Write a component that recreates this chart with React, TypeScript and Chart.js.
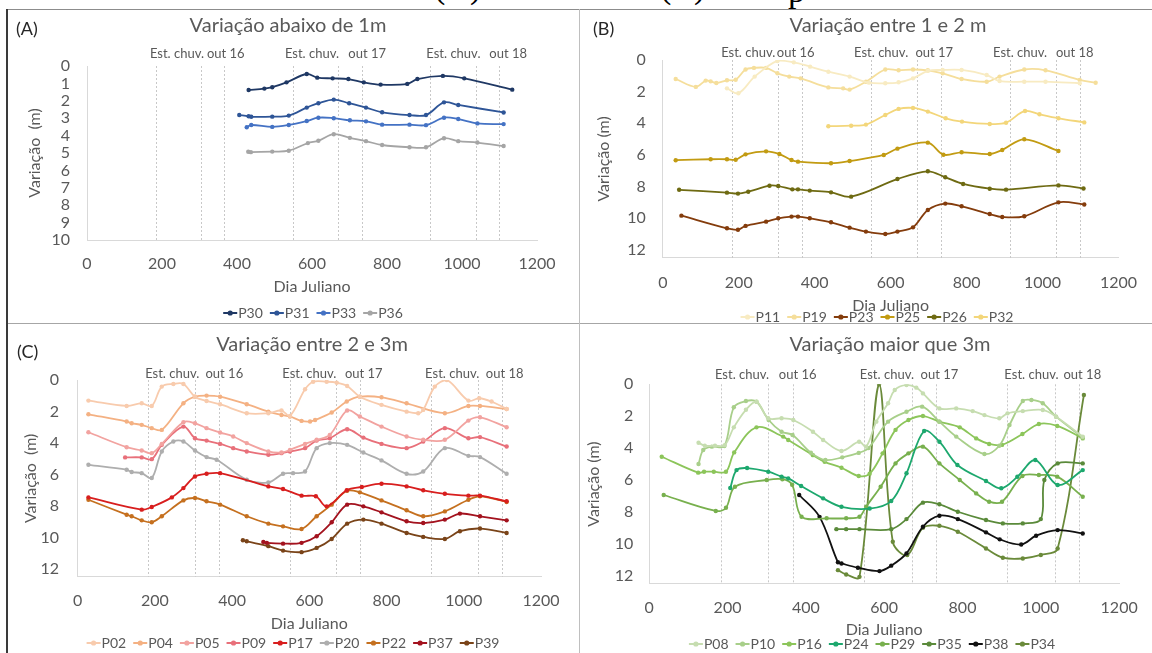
import React, { useEffect, useRef } from 'react';
import { Chart, registerables } from 'chart.js';
Chart.register(...registerables);

type Pt = [number, number];

const FONT = 'Lato, "Open Sans", sans-serif';
const TEXT = '#595959';

// Vertical dotted reference lines (Julian day)
const RAIN_LINES = [183, 304, 366, 549, 670, 732, 914, 1036, 1098];
const RAIN_TEXT = ['Est. chuv.', 'out 16', 'Est. chuv.', 'out 17', 'Est. chuv.', 'out 18'];
const X_TICKS = [0, 200, 400, 600, 800, 1000, 1200];
const Y_TICKS_A = [0, 1, 2, 3, 4, 5, 6, 7, 8, 9, 10];
const Y_TICKS_BCD = [0, 2, 4, 6, 8, 10, 12];

// ---- Panel A: Variação abaixo de 1m
const P30: Pt[] = [[431,1.38],[473,1.30],[494,1.22],[532,0.94],[586,0.46],[614,0.67],[655,0.71],[697,0.75],[738,0.94],[783,1.07],[854,1.03],[881,0.75],[949,0.57],[1006,0.71],[1134,1.36]];
const P31: Pt[] = [[406,2.82],[431,2.89],[438,2.92],[494,2.91],[538,2.85],[586,2.39],[617,2.14],[658,1.93],[699,2.14],[744,2.39],[787,2.66],[860,2.82],[904,2.82],[952,2.09],[990,2.24],[1111,2.67]];
const P33: Pt[] = [[426,3.52],[438,3.39],[494,3.5],[538,3.39],[586,3.16],[617,2.97],[658,3.0],[701,3.12],[744,3.18],[787,3.37],[860,3.37],[904,3.4],[952,2.97],[990,3.05],[1041,3.3],[1111,3.34]];
const P36: Pt[] = [[430,4.93],[437,4.95],[494,4.92],[538,4.87],[589,4.43],[617,4.3],[658,3.92],[701,4.13],[744,4.32],[787,4.54],[860,4.67],[904,4.67],[952,4.15],[990,4.32],[1041,4.4],[1111,4.6]];

// ---- Panel B: Variação entre 1 e 2 m
const P11: Pt[] = [[169,1.79],[199,2.1],[242,1.05],[302,0.06],[345,0.15],[388,0.42],[436,0.74],[492,1.05],[543,1.43],[586,1.47],[621,1.41],[659,1.16],[698,0.69],[737,0.63],[787,0.63],[853,0.95],[887,1.33],[952,1.37],[1008,1.37],[1098,1.47]];
const P19: Pt[] = [[34,1.2],[87,1.7],[113,1.3],[126,1.35],[141,1.45],[169,1.28],[192,1.25],[218,0.6],[240,0.5],[272,0.5],[302,0.84],[333,1.05],[363,1.16],[436,1.73],[475,1.79],[492,1.87],[535,1.37],[586,0.6],[621,0.65],[659,0.6],[698,0.65],[737,0.84],[787,1.2],[853,1.37],[887,1.05],[952,0.6],[1008,0.65],[1098,1.26],[1140,1.44]];
const P23: Pt[] = [[49,9.83],[169,10.63],[198,10.72],[218,10.48],[272,10.21],[304,10.0],[339,9.89],[356,9.89],[387,10.0],[443,10.25],[492,10.59],[535,10.84],[586,10.99],[618,10.84],[659,10.57],[698,9.47],[744,9.07],[787,9.24],[861,9.73],[894,9.92],[952,9.87],[1042,8.99],[1110,9.13]];
const P25: Pt[] = [[34,6.33],[126,6.27],[169,6.27],[192,6.3],[218,5.96],[272,5.77],[307,5.94],[339,6.32],[356,6.42],[443,6.52],[492,6.38],[582,6.0],[618,5.6],[698,5.22],[739,5.98],[787,5.83],[861,5.94],[894,5.68],[952,5.01],[1042,5.75]];
const P26: Pt[] = [[43,8.2],[169,8.38],[198,8.44],[225,8.32],[281,7.94],[304,7.96],[341,8.17],[356,8.17],[387,8.25],[443,8.36],[496,8.63],[618,7.52],[698,7.03],[744,7.41],[791,7.83],[861,8.13],[904,8.19],[1042,7.92],[1108,8.12]];
const P32: Pt[] = [[436,4.18],[496,4.15],[535,4.08],[586,3.47],[621,3.09],[659,3.03],[698,3.26],[745,3.68],[788,3.89],[861,4.04],[904,3.96],[954,3.22],[992,3.43],[1042,3.68],[1110,3.94]];

// ---- Panel C: Variação entre 2 e 3m
const P02: Pt[] = [[28,1.31],[127,1.65],[166,1.48],[192,1.65],[218,0.42],[248,0.25],[274,0.25],[304,1.06],[334,1.33],[369,1.54],[438,2.11],[494,2.11],[528,1.94],[550,2.28],[589,0.59],[610,0.11],[645,0.11],[671,0.17],[698,0.38],[731,1.06],[787,1.58],[852,2.01],[882,2.11],[895,1.9],[925,0.42],[956,0.0],[1012,1.31],[1040,1.16],[1072,1.37],[1111,1.84]];
const P04: Pt[] = [[28,2.18],[127,2.64],[140,2.75],[166,2.85],[192,3.06],[218,3.17],[274,1.48],[304,1.06],[334,0.99],[369,1.06],[438,1.54],[494,2.01],[528,2.22],[550,2.32],[580,2.6],[602,2.64],[615,2.54],[658,2.07],[697,1.37],[731,1.06],[787,1.1],[852,1.48],[951,2.11],[1012,1.65],[1042,1.65],[1111,1.84]];
const P05: Pt[] = [[28,3.32],[127,4.27],[166,4.48],[192,4.65],[218,4.06],[274,2.68],[304,2.75],[334,3.06],[369,3.34],[403,3.59],[438,4.01],[494,4.54],[528,4.61],[550,4.44],[589,4.06],[619,3.8],[653,3.49],[698,1.94],[731,2.32],[787,2.96],[852,3.59],[895,3.8],[951,3.8],[1012,2.58],[1042,2.37],[1111,3.0]];
const P09: Pt[] = [[123,4.92],[166,4.92],[192,5.03],[218,4.12],[274,2.96],[304,3.7],[334,3.85],[369,4.06],[403,4.33],[438,4.54],[494,4.75],[528,4.65],[550,4.54],[589,4.33],[619,3.85],[653,3.7],[698,3.13],[740,3.66],[787,4.06],[852,4.33],[895,3.91],[951,3.06],[1012,3.7],[1042,3.63],[1111,4.23]];
const P17: Pt[] = [[28,7.46],[166,8.24],[192,8.07],[244,7.46],[274,6.87],[304,6.13],[334,5.96],[369,5.92],[494,6.76],[532,6.93],[580,7.35],[617,7.39],[645,8.03],[697,7.01],[736,6.8],[787,6.59],[852,6.76],[895,7.01],[951,7.23],[1012,7.35],[1042,7.35],[1111,7.71]];
const P20: Pt[] = [[28,5.39],[127,5.7],[140,5.85],[166,5.92],[192,6.23],[218,4.54],[248,3.91],[274,3.91],[304,4.48],[334,4.9],[360,5.07],[438,6.34],[494,6.51],[532,5.96],[558,5.92],[589,5.81],[619,4.33],[653,4.01],[698,4.12],[740,4.61],[787,5.11],[852,5.96],[895,5.81],[951,4.33],[1012,4.82],[1042,4.9],[1111,5.96]];
const P22: Pt[] = [[28,7.61],[127,8.56],[140,8.66],[166,8.92],[192,9.04],[218,8.66],[274,7.65],[304,7.5],[334,7.71],[369,7.92],[438,8.66],[494,9.13],[532,9.3],[580,9.47],[619,8.66],[658,7.92],[698,7.04],[731,7.14],[787,7.65],[852,8.28],[895,8.66],[951,8.35],[1012,7.61],[1042,7.39],[1111,7.75]];
const P37: Pt[] = [[481,10.29],[490,10.35],[532,10.4],[580,10.35],[619,9.93],[658,9.04],[698,7.92],[740,8.03],[787,8.41],[852,8.98],[895,9.09],[951,8.87],[990,8.49],[1042,8.66],[1111,8.92]];
const P39: Pt[] = [[428,10.18],[438,10.25],[494,10.56],[532,10.84],[580,10.94],[619,10.67],[658,10.1],[698,9.13],[740,8.87],[787,9.13],[852,9.72],[895,9.97],[951,10.1],[990,9.61],[1042,9.44],[1111,9.72]];

// ---- Panel D: Variação maior que 3m
const P08: Pt[] = [[126,3.66],[142,3.85],[168,3.85],[193,3.81],[216,2.7],[247,1.6],[274,1.09],[304,2.13],[338,2.13],[368,2.24],[418,2.97],[444,3.49],[491,4.18],[536,3.6],[554,3.91],[580,2.34],[610,1.19],[627,0.36],[657,0.04],[682,0.21],[699,0.57],[741,1.51],[784,1.51],[826,1.68],[856,1.93],[894,2.13],[915,1.82],[954,1.68],[1005,1.61],[1039,2.03],[1107,3.28]];
const P10: Pt[] = [[126,5.0],[138,4.12],[160,3.91],[192,3.87],[216,1.44],[247,1.05],[274,1.09],[305,2.24],[338,2.97],[366,3.18],[413,4.29],[450,4.75],[493,4.58],[535,4.3],[560,4.0],[610,2.34],[657,1.72],[697,1.4],[741,2.34],[784,3.28],[856,4.37],[894,3.85],[920,2.55],[954,1.05],[976,0.98],[1005,1.19],[1039,2.03],[1107,3.33]];
const P16: Pt[] = [[32,4.54],[125,5.54],[140,5.48],[165,5.48],[196,5.48],[217,4.27],[274,2.7],[342,3.28],[355,3.49],[418,4.44],[448,4.86],[491,5.23],[535,5.75],[563,5.6],[596,4.33],[629,2.86],[662,2.24],[699,1.99],[741,2.34],[793,2.7],[835,3.39],[868,3.74],[901,3.8],[953,3.12],[995,2.49],[1042,2.61],[1107,3.39]];
const P24: Pt[] = [[207,6.5],[223,5.38],[250,5.25],[304,5.48],[338,5.79],[355,5.9],[388,6.38],[444,7.15],[491,7.68],[563,7.79],[618,7.32],[657,5.58],[702,2.93],[741,3.6],[787,5.06],[860,6.06],[899,6.52],[940,5.8],[986,4.75],[1043,6.31],[1107,5.38]];
const P29: Pt[] = [[37,6.94],[170,7.94],[196,7.74],[219,6.42],[300,6.0],[340,5.95],[365,6.3],[389,8.3],[453,8.4],[503,8.4],[537,8.3],[554,7.67],[591,6.42],[629,4.96],[662,4.33],[699,3.91],[741,4.96],[793,6.0],[835,6.84],[868,7.36],[901,7.36],[953,5.75],[995,5.69],[1042,5.79],[1107,7.05]];
const P35: Pt[] = [[478,9.08],[503,9.08],[537,9.08],[618,9.08],[657,8.45],[699,7.42],[741,7.52],[788,7.99],[860,8.51],[903,8.72],[954,8.72],[1000,8.45],[1009,6.0],[1043,4.96],[1107,4.96]];
const P38: Pt[] = [[383,6.94],[435,8.31],[482,11.16],[491,11.23],[533,11.5],[588,11.71],[618,11.37],[657,10.6],[699,8.93],[741,8.24],[788,8.45],[860,9.28],[895,9.72],[950,10.04],[988,9.49],[1043,9.14],[1107,9.35]];
const P34: Pt[] = [[482,11.65],[503,11.92],[537,12.07],[587,0.0],[622,9.87],[659,10.7],[699,9.0],[741,8.87],[788,9.24],[860,10.29],[903,10.87],[954,10.92],[1000,10.7],[1043,10.29],[1110,0.67]];

interface Series { label: string; color: string; data: Pt[]; }
interface Panel {
  left: number; top: number; width: number; height: number;
  area: { l: number; r: number; t: number; b: number };
  yMax: number; yTicks: number[]; yTickPad: number;
  yTitle: string; yTitlePad: number;
  xTickPad: number; xTitlePad: number;
  title: string; titleX: number; titleY: number;
  tag?: string; tagX?: number; tagY?: number;
  labelOff: number; labelX: number[];
  legendX: number; legendY: number;
  series: Series[];
}

const PANELS: Panel[] = [
  {
    left: 8, top: 10, width: 570, height: 313,
    area: { l: 79, r: 529, t: 56, b: 230 },
    yMax: 10, yTicks: Y_TICKS_A, yTickPad: 17,
    yTitle: 'Variação  (m)', yTitlePad: 17,
    xTickPad: 14, xTitlePad: 27,
    title: 'Variação abaixo de 1m', titleX: 280, titleY: 16,
    tag: '(A)', tagX: 8, tagY: 19,
    labelOff: 12, labelX: [240, 370, 600, 747, 977, 1123],
    legendX: 305, legendY: 303,
    series: [
      { label: 'P30', color: '#1F3864', data: P30 },
      { label: 'P31', color: '#2E5597', data: P31 },
      { label: 'P33', color: '#4472C4', data: P33 },
      { label: 'P36', color: '#A5A5A5', data: P36 },
    ],
  },
  {
    left: 580, top: 10, width: 572, height: 313,
    area: { l: 82.8, r: 547.8, t: 50, b: 247.9 },
    yMax: 12.5, yTicks: Y_TICKS_BCD, yTickPad: 17,
    yTitle: 'Variação (m)', yTitlePad: 14,
    xTickPad: 15, xTitlePad: 8,
    title: 'Variação entre 1 e 2 m', titleX: 308, titleY: 16,
    tag: '(B)', tagX: 13, tagY: 19,
    labelOff: 7, labelX: [225, 350, 575, 715, 941, 1085],
    legendX: 297, legendY: 307,
    series: [
      { label: 'P11', color: '#F8EBC2', data: P11 },
      { label: 'P19', color: '#F5DE9B', data: P19 },
      { label: 'P23', color: '#843C0C', data: P23 },
      { label: 'P25', color: '#C29B12', data: P25 },
      { label: 'P26', color: '#6E6A12', data: P26 },
      { label: 'P32', color: '#F3D67A', data: P32 },
    ],
  },
  {
    left: 8, top: 325, width: 570, height: 328,
    area: { l: 69.6, r: 533, t: 55, b: 251.7 },
    yMax: 12.5, yTicks: Y_TICKS_BCD, yTickPad: 18.6,
    yTitle: 'Variação  (m)', yTitlePad: 13,
    xTickPad: 14.3, xTitlePad: 19.4,
    title: 'Variação entre 2 e 3m', titleX: 304, titleY: 20,
    tag: '(C)', tagX: 9, tagY: 27,
    labelOff: 6, labelX: [245, 380, 600, 741, 970, 1106],
    legendX: 285, legendY: 318,
    series: [
      { label: 'P02', color: '#F8CBAD', data: P02 },
      { label: 'P04', color: '#F4B183', data: P04 },
      { label: 'P05', color: '#F2A3A0', data: P05 },
      { label: 'P09', color: '#E8707A', data: P09 },
      { label: 'P17', color: '#D81E1E', data: P17 },
      { label: 'P20', color: '#AEAEAE', data: P20 },
      { label: 'P22', color: '#C5701F', data: P22 },
      { label: 'P37', color: '#A3121E', data: P37 },
      { label: 'P39', color: '#7A4419', data: P39 },
    ],
  },
  {
    left: 580, top: 325, width: 572, height: 328,
    area: { l: 69.2, r: 540, t: 59.3, b: 258.7 },
    yMax: 12.5, yTicks: Y_TICKS_BCD, yTickPad: 16,
    yTitle: 'Variação (m)', yTitlePad: 4.4,
    xTickPad: 14.3, xTitlePad: 13.4,
    title: 'Variação maior que 3m', titleX: 310, titleY: 20,
    labelOff: 9, labelX: [237, 379, 607, 741, 976, 1106],
    legendX: 292, legendY: 319,
    series: [
      { label: 'P08', color: '#C6DDB0', data: P08 },
      { label: 'P10', color: '#A8CF8A', data: P10 },
      { label: 'P16', color: '#8CC55A', data: P16 },
      { label: 'P24', color: '#1DA86E', data: P24 },
      { label: 'P29', color: '#78B04E', data: P29 },
      { label: 'P35', color: '#5A8A3A', data: P35 },
      { label: 'P38', color: '#111111', data: P38 },
      { label: 'P34', color: '#6A8A3A', data: P34 },
    ],
  },
];

function decorPlugin(p: Panel) {
  return {
    id: 'decor',
    beforeDatasetsDraw(chart: any) {
      const { ctx, chartArea, scales } = chart;
      const xs = scales.x;
      ctx.save();
      ctx.strokeStyle = '#C8C8C8';
      ctx.lineWidth = 1;
      ctx.setLineDash([2, 2]);
      for (const v of RAIN_LINES) {
        const px = Math.round(xs.getPixelForValue(v)) + 0.5;
        ctx.beginPath();
        ctx.moveTo(px, chartArea.top);
        ctx.lineTo(px, chartArea.bottom);
        ctx.stroke();
      }
      ctx.setLineDash([]);
      ctx.fillStyle = TEXT;
      ctx.font = `13px ${FONT}`;
      ctx.textAlign = 'center';
      ctx.textBaseline = 'middle';
      p.labelX.forEach((v, i) => {
        ctx.fillText(RAIN_TEXT[i], xs.getPixelForValue(v), chartArea.top - p.labelOff);
      });
      ctx.restore();
    },
    afterDraw(chart: any) {
      const { ctx } = chart;
      ctx.save();
      ctx.textBaseline = 'middle';
      ctx.fillStyle = TEXT;
      ctx.font = `20px ${FONT}`;
      ctx.textAlign = 'center';
      ctx.fillText(p.title, p.titleX, p.titleY);
      if (p.tag) {
        ctx.fillStyle = '#262626';
        ctx.font = `18px ${FONT}`;
        ctx.textAlign = 'left';
        ctx.fillText(p.tag, p.tagX, p.tagY);
      }
      // legend
      ctx.font = `14px ${FONT}`;
      const mark = 14, gap = 7;
      const items = p.series.map((s) => ({ s, w: mark + 1 + ctx.measureText(s.label).width }));
      const total = items.reduce((a, it) => a + it.w, 0) + gap * (items.length - 1);
      let x = p.legendX - total / 2;
      const y = p.legendY;
      for (const it of items) {
        ctx.strokeStyle = it.s.color;
        ctx.lineWidth = 2;
        ctx.beginPath();
        ctx.moveTo(x, y);
        ctx.lineTo(x + mark, y);
        ctx.stroke();
        ctx.fillStyle = it.s.color;
        ctx.beginPath();
        ctx.arc(x + mark / 2, y, 2.6, 0, Math.PI * 2);
        ctx.fill();
        ctx.fillStyle = TEXT;
        ctx.textAlign = 'left';
        ctx.fillText(it.s.label, x + mark + 1, y + 0.5);
        x += it.w + gap;
      }
      ctx.restore();
    },
  };
}

function makeConfig(p: Panel): any {
  return {
    type: 'line',
    data: {
      datasets: p.series.map((s) => ({
        label: s.label,
        data: s.data.map(([x, y]) => ({ x, y })),
        borderColor: s.color,
        backgroundColor: s.color,
        pointBackgroundColor: s.color,
        pointBorderColor: s.color,
        pointRadius: 2.2,
        pointBorderWidth: 0,
        borderWidth: 1.8,
        tension: 0.35,
        fill: false,
      })),
    },
    options: {
      responsive: false,
      animation: false,
      events: [],
      layout: { padding: { left: 0, top: p.area.t, right: p.width - p.area.r, bottom: 0 } },
      plugins: { legend: { display: false }, tooltip: { enabled: false }, title: { display: false } },
      scales: {
        x: {
          type: 'linear',
          min: 0,
          max: 1200,
          grid: { display: false, drawTicks: false },
          border: { display: true, color: '#D9D9D9', width: 1 },
          afterBuildTicks: (s: any) => { s.ticks = X_TICKS.map((v) => ({ value: v })); },
          afterFit: (s: any) => { s.height = p.height - p.area.b; },
          ticks: {
            color: TEXT, font: { family: FONT, size: 16 }, padding: p.xTickPad, maxRotation: 0, autoSkip: false,
            callback: (v: any) => String(v),
          },
          title: { display: true, text: 'Dia Juliano', color: TEXT, font: { family: FONT, size: 16 }, padding: { top: 0, bottom: p.xTitlePad } },
        },
        y: {
          type: 'linear',
          reverse: true,
          min: 0,
          max: p.yMax,
          grid: { display: false, drawTicks: false },
          border: { display: true, color: '#D9D9D9', width: 1 },
          afterBuildTicks: (s: any) => { s.ticks = p.yTicks.map((v) => ({ value: v })); },
          afterFit: (s: any) => { s.width = p.area.l; },
          ticks: { color: TEXT, font: { family: FONT, size: 16 }, padding: p.yTickPad, autoSkip: false, callback: (v: any) => String(v) },
          title: { display: true, text: p.yTitle, color: TEXT, font: { family: FONT, size: 16 }, padding: { top: p.yTitlePad, bottom: 0 } },
        },
      },
    },
    plugins: [decorPlugin(p)],
  };
}

function PanelChart({ p }: { p: Panel }) {
  const ref = useRef<HTMLCanvasElement>(null);
  useEffect(() => {
    const chart = new Chart(ref.current as HTMLCanvasElement, makeConfig(p));
    return () => chart.destroy();
  }, []);
  return (
    <div style={{ position: 'absolute', left: p.left, top: p.top, width: p.width, height: p.height }}>
      <canvas ref={ref} width={p.width} height={p.height} style={{ width: p.width, height: p.height, display: 'block' }} />
    </div>
  );
}

const serif: React.CSSProperties = {
  position: 'absolute',
  fontFamily: '"Liberation Serif", "DejaVu Serif", serif',
  fontSize: 34,
  lineHeight: '34px',
  color: '#000',
  whiteSpace: 'nowrap',
};

export default function App() {
  return (
    <div style={{ position: 'fixed', left: 0, top: 0, width: 1152, height: 653, background: '#fff', overflow: 'hidden' }}>
      <span style={{ ...serif, left: 434, top: -30 }}>(A)</span>
      <span style={{ ...serif, left: 660, top: -30 }}>(B)</span>
      <span style={{ ...serif, left: 788, top: -26 }}>p</span>
      {PANELS.map((p, i) => <PanelChart key={i} p={p} />)}
      {/* frame lines */}
      <div style={{ position: 'absolute', left: 6, top: 9, width: 1146, height: 1, background: '#8C8C8C' }} />
      <div style={{ position: 'absolute', left: 6, top: 9, width: 2, height: 644, background: '#3A3A3A' }} />
      <div style={{ position: 'absolute', left: 8, top: 323, width: 1144, height: 1, background: '#A6A6A6' }} />
      <div style={{ position: 'absolute', left: 579, top: 9, width: 1, height: 644, background: '#BFBFBF' }} />
    </div>
  );
}
